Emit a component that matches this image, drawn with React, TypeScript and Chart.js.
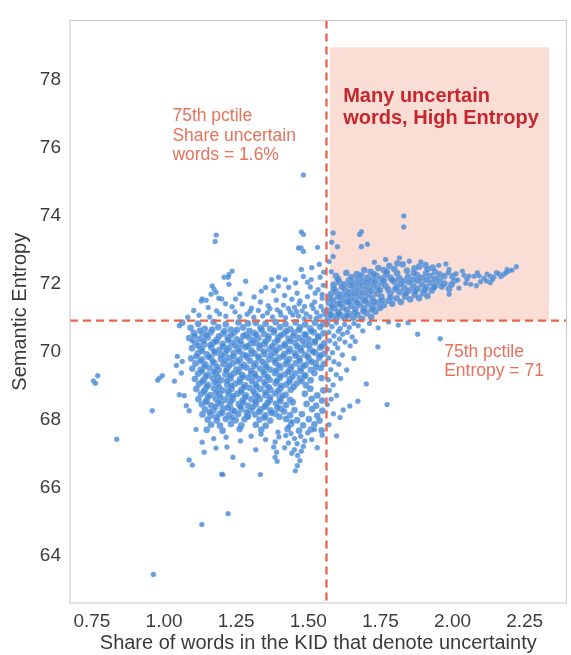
import { useEffect, useRef } from "react";
import Chart from "chart.js/auto";

type Pt = [number, number];

// axis ticks
const xTicks = [0.75, 1.0, 1.25, 1.5, 1.75, 2.0, 2.25];
const yTicks = [64, 66, 68, 70, 72, 74, 76, 78];

// 75th percentile thresholds
const shareCut = 1.563;
const entropyCut = 70.92;

// isolated points far from the main cloud
const outliers: Pt[] = [
  [0.755, 69.15], [0.77, 69.3], [0.762, 69.08], [0.836, 67.43], [0.959, 68.27], [0.984, 69.23],
  [0.994, 69.3], [0.978, 69.17], [0.963, 63.45], [1.131, 64.92], [1.222, 65.24], [1.204, 66.39],
  [1.334, 66.39], [1.053, 68.74], [1.046, 69.87], [1.063, 69.72], [1.043, 69.6], [1.06, 69.38],
  [1.036, 69.14], [1.07, 68.71], [1.077, 68.42], [1.087, 68.27], [1.053, 70.77], [1.098, 70.33],
];

// dense cloud, left half
const coreLeft: Pt[] = [
  [1.063, 70.86], [1.118, 70.83], [1.172, 70.88], [1.214, 70.81], [1.258, 70.87], [1.291, 70.84],
  [1.092, 70.71], [1.141, 70.68], [1.188, 70.73], [1.232, 70.66], [1.274, 70.72],
  [1.103, 70.56], [1.134, 70.52], [1.162, 70.58], [1.204, 70.54], [1.243, 70.57], [1.284, 70.51],
  [1.087, 70.41], [1.122, 70.38], [1.151, 70.43], [1.183, 70.36], [1.221, 70.42], [1.252, 70.37], [1.293, 70.44],
  [1.108, 70.26], [1.139, 70.22], [1.171, 70.28], [1.203, 70.24], [1.235, 70.27], [1.268, 70.21], [1.301, 70.25],
  [1.097, 70.11], [1.128, 70.08], [1.164, 70.13], [1.192, 70.06], [1.224, 70.12], [1.257, 70.09], [1.282, 70.14],
  [1.117, 69.96], [1.149, 69.93], [1.178, 69.98], [1.212, 69.94], [1.241, 69.97], [1.273, 69.92], [1.304, 69.95],
  [1.094, 69.81], [1.132, 69.78], [1.163, 69.83], [1.197, 69.79], [1.228, 69.82], [1.262, 69.77], [1.289, 69.84],
  [1.109, 69.66], [1.143, 69.63], [1.174, 69.68], [1.206, 69.64], [1.238, 69.67], [1.277, 69.62],
  [1.098, 69.51], [1.127, 69.48], [1.158, 69.53], [1.189, 69.47], [1.219, 69.52], [1.251, 69.49], [1.286, 69.54],
  [1.118, 69.36], [1.152, 69.33], [1.181, 69.38], [1.213, 69.34], [1.242, 69.37], [1.271, 69.32], [1.302, 69.35],
  [1.107, 69.21], [1.138, 69.18], [1.169, 69.23], [1.198, 69.17], [1.231, 69.22], [1.263, 69.19], [1.292, 69.24],
  [1.121, 69.06], [1.153, 69.03], [1.186, 69.08], [1.219, 69.04], [1.248, 69.07], [1.281, 69.02],
  [1.112, 68.91], [1.142, 68.88], [1.173, 68.93], [1.204, 68.87], [1.234, 68.92], [1.268, 68.89], [1.297, 68.94],
  [1.128, 68.76], [1.161, 68.73], [1.192, 68.78], [1.223, 68.74], [1.254, 68.77], [1.284, 68.72],
  [1.119, 68.61], [1.148, 68.58], [1.179, 68.63], [1.211, 68.59], [1.239, 68.62], [1.272, 68.57], [1.303, 68.61],
  [1.131, 68.46], [1.163, 68.43], [1.197, 68.48], [1.228, 68.44], [1.259, 68.47], [1.291, 68.42],
  [1.142, 68.31], [1.171, 68.28], [1.204, 68.33], [1.236, 68.29], [1.268, 68.32], [1.299, 68.27],
  [1.133, 68.16], [1.162, 68.13], [1.193, 68.18], [1.224, 68.14], [1.257, 68.17], [1.288, 68.12],
  [1.151, 68.01], [1.183, 67.98], [1.214, 68.03], [1.248, 67.99], [1.279, 68.02],
  [1.163, 67.86], [1.194, 67.83], [1.232, 67.88], [1.268, 67.84],
  [1.148, 67.71], [1.203, 67.68], [1.262, 67.73],
];

// dense cloud, right half up to the share cut
const coreRight: Pt[] = [
  [1.318, 70.86], [1.352, 70.83], [1.387, 70.88], [1.421, 70.82], [1.456, 70.87], [1.489, 70.81], [1.523, 70.86], [1.552, 70.83],
  [1.334, 70.71], [1.368, 70.68], [1.402, 70.73], [1.437, 70.67], [1.471, 70.72], [1.506, 70.69], [1.541, 70.74],
  [1.312, 70.56], [1.347, 70.53], [1.381, 70.58], [1.416, 70.54], [1.452, 70.57], [1.487, 70.52], [1.519, 70.58], [1.553, 70.55],
  [1.327, 70.41], [1.361, 70.38], [1.396, 70.43], [1.432, 70.39], [1.466, 70.42], [1.501, 70.37], [1.536, 70.43],
  [1.316, 70.26], [1.349, 70.23], [1.384, 70.28], [1.419, 70.24], [1.454, 70.27], [1.488, 70.22], [1.522, 70.28], [1.555, 70.25],
  [1.331, 70.11], [1.366, 70.08], [1.401, 70.13], [1.436, 70.09], [1.472, 70.12], [1.506, 70.07], [1.541, 70.13],
  [1.313, 69.96], [1.348, 69.93], [1.383, 69.98], [1.417, 69.94], [1.453, 69.97], [1.489, 69.92], [1.524, 69.98], [1.556, 69.95],
  [1.329, 69.81], [1.364, 69.78], [1.399, 69.83], [1.434, 69.79], [1.469, 69.82], [1.503, 69.77], [1.538, 69.83],
  [1.317, 69.66], [1.351, 69.63], [1.386, 69.68], [1.421, 69.64], [1.457, 69.67], [1.491, 69.62], [1.526, 69.68], [1.554, 69.65],
  [1.333, 69.51], [1.368, 69.48], [1.403, 69.53], [1.438, 69.49], [1.473, 69.52], [1.509, 69.47], [1.543, 69.53],
  [1.314, 69.36], [1.349, 69.33], [1.384, 69.38], [1.419, 69.34], [1.455, 69.37], [1.489, 69.32], [1.521, 69.38],
  [1.331, 69.21], [1.366, 69.18], [1.401, 69.23], [1.436, 69.19], [1.471, 69.22], [1.508, 69.17], [1.546, 69.23],
  [1.318, 69.06], [1.352, 69.03], [1.387, 69.08], [1.423, 69.04], [1.459, 69.07], [1.492, 69.02],
  [1.334, 68.91], [1.369, 68.88], [1.404, 68.93], [1.439, 68.89], [1.507, 68.92], [1.552, 68.87],
  [1.316, 68.76], [1.351, 68.73], [1.386, 68.78], [1.421, 68.74], [1.488, 68.77], [1.531, 68.72],
  [1.332, 68.61], [1.367, 68.58], [1.402, 68.63], [1.437, 68.59], [1.512, 68.62], [1.548, 68.57],
  [1.318, 68.46], [1.353, 68.43], [1.388, 68.48], [1.423, 68.44], [1.494, 68.47], [1.527, 68.42],
  [1.335, 68.31], [1.369, 68.28], [1.404, 68.33], [1.452, 68.29], [1.513, 68.32], [1.549, 68.27],
  [1.316, 68.16], [1.351, 68.13], [1.386, 68.18], [1.437, 68.14], [1.478, 68.17], [1.531, 68.12],
  [1.331, 68.01], [1.368, 67.98], [1.423, 68.03], [1.461, 67.99], [1.502, 68.02], [1.539, 67.98],
  [1.318, 67.86], [1.352, 67.83], [1.441, 67.88], [1.482, 67.84], [1.521, 67.87],
  [1.337, 67.71], [1.428, 67.73], [1.468, 67.68], [1.509, 67.72], [1.546, 67.69],
];

// extra points in the thickest part of the cloud
const coreFill: Pt[] = [
  [1.125, 70.63], [1.167, 70.66], [1.21, 70.61], [1.253, 70.65], [1.296, 70.62], [1.338, 70.66], [1.381, 70.63], [1.424, 70.61], [1.468, 70.65], [1.511, 70.62],
  [1.106, 70.47], [1.148, 70.5], [1.19, 70.46], [1.232, 70.49], [1.275, 70.47], [1.319, 70.51], [1.362, 70.46], [1.405, 70.49], [1.448, 70.47], [1.491, 70.5], [1.534, 70.46],
  [1.137, 70.33], [1.18, 70.31], [1.222, 70.35], [1.265, 70.32], [1.308, 70.34], [1.351, 70.31], [1.394, 70.35], [1.437, 70.32], [1.48, 70.34], [1.523, 70.31],
  [1.119, 70.18], [1.161, 70.2], [1.204, 70.16], [1.246, 70.19], [1.289, 70.17], [1.332, 70.2], [1.375, 70.16], [1.418, 70.19], [1.461, 70.17], [1.503, 70.2], [1.546, 70.16],
  [1.132, 70.03], [1.174, 70.01], [1.217, 70.05], [1.26, 70.02], [1.303, 70.04], [1.346, 70.01], [1.389, 70.05], [1.432, 70.02], [1.475, 70.04], [1.517, 70.01],
  [1.113, 69.88], [1.155, 69.86], [1.198, 69.9], [1.241, 69.87], [1.284, 69.89], [1.327, 69.86], [1.37, 69.9], [1.413, 69.87], [1.456, 69.89], [1.499, 69.86], [1.541, 69.9],
  [1.127, 69.73], [1.169, 69.71], [1.212, 69.75], [1.255, 69.72], [1.298, 69.74], [1.341, 69.71], [1.384, 69.75], [1.427, 69.72], [1.47, 69.74], [1.512, 69.71],
  [1.141, 69.58], [1.183, 69.56], [1.226, 69.6], [1.269, 69.57], [1.312, 69.59], [1.355, 69.56], [1.398, 69.6], [1.441, 69.57], [1.484, 69.59], [1.527, 69.56],
  [1.131, 69.43], [1.173, 69.41], [1.216, 69.45], [1.259, 69.42], [1.302, 69.44], [1.345, 69.41], [1.388, 69.45], [1.431, 69.42], [1.474, 69.44],
  [1.145, 69.28], [1.187, 69.26], [1.23, 69.3], [1.273, 69.27], [1.316, 69.29], [1.359, 69.26], [1.402, 69.3], [1.445, 69.27], [1.488, 69.29],
  [1.133, 69.13], [1.176, 69.11], [1.219, 69.15], [1.262, 69.12], [1.305, 69.14], [1.348, 69.11], [1.391, 69.15], [1.434, 69.12], [1.477, 69.14],
  [1.148, 68.98], [1.191, 68.96], [1.234, 69.0], [1.277, 68.97], [1.32, 68.99], [1.363, 68.96], [1.406, 69.0], [1.449, 68.97],
  [1.138, 68.83], [1.181, 68.81], [1.224, 68.85], [1.267, 68.82], [1.31, 68.84], [1.353, 68.81], [1.396, 68.85],
  [1.152, 68.68], [1.195, 68.66], [1.238, 68.7], [1.281, 68.67], [1.324, 68.69], [1.367, 68.66], [1.41, 68.7],
  [1.145, 68.53], [1.188, 68.51], [1.231, 68.55], [1.274, 68.52], [1.317, 68.54], [1.36, 68.51], [1.403, 68.55], [1.446, 68.52],
  [1.178, 68.38], [1.221, 68.36], [1.264, 68.4], [1.307, 68.37], [1.35, 68.39], [1.393, 68.36],
  [1.158, 68.23], [1.201, 68.21], [1.244, 68.25], [1.287, 68.22], [1.33, 68.24], [1.373, 68.21], [1.416, 68.25],
  [1.182, 68.08], [1.236, 68.06], [1.291, 68.1], [1.348, 68.07], [1.4, 68.09],
];

// above the entropy cut, left of the share cut
const upperLeft: Pt[] = [
  [1.129, 71.5], [1.146, 71.52], [1.163, 71.7], [1.173, 71.85], [1.167, 71.94], [1.2, 71.56], [1.19, 71.58],
  [1.18, 71.76], [1.208, 72.2], [1.225, 72.28], [1.236, 72.38], [1.222, 72.2], [1.225, 71.99], [1.283, 72.08],
  [1.132, 71.56], [1.352, 71.9], [1.373, 72.13], [1.397, 72.2], [1.42, 72.13], [1.38, 71.8], [1.432, 71.9],
  [1.483, 72.22], [1.476, 72.43], [1.51, 72.13], [1.541, 72.2], [1.181, 73.44], [1.177, 73.25], [1.483, 75.21],
  [1.483, 73.46], [1.475, 73.06], [1.483, 72.96], [1.532, 73.08], [1.466, 73.06], [1.476, 73.53],
  [1.082, 71.02], [1.121, 71.08], [1.158, 71.03], [1.192, 71.12], [1.214, 71.05], [1.246, 71.18], [1.262, 71.04],
  [1.288, 71.11], [1.311, 71.02], [1.327, 71.22], [1.342, 71.06], [1.358, 71.15], [1.376, 71.03], [1.392, 71.24],
  [1.405, 71.09], [1.421, 71.01], [1.438, 71.17], [1.452, 71.31], [1.466, 71.06], [1.479, 71.21], [1.493, 71.12],
  [1.506, 71.03], [1.517, 71.28], [1.529, 71.16], [1.541, 71.05], [1.553, 71.22],
  [1.236, 71.33], [1.271, 71.41], [1.303, 71.29], [1.334, 71.47], [1.361, 71.36], [1.389, 71.52], [1.414, 71.38],
  [1.443, 71.55], [1.468, 71.42], [1.497, 71.63], [1.522, 71.47], [1.548, 71.58], [1.534, 71.83], [1.507, 71.91],
  [1.552, 71.96], [1.461, 71.73], [1.418, 71.66], [1.312, 71.62], [1.263, 71.71], [1.497, 72.05], [1.553, 72.35],
  [1.538, 72.58], [1.512, 72.48], [1.103, 71.22], [1.153, 71.31], [1.213, 71.42], [1.182, 71.21], [1.248, 71.56],
  [1.337, 71.79], [1.396, 71.94], [1.456, 72.03], [1.524, 71.73],
  [1.402, 71.18], [1.431, 71.28], [1.459, 71.19], [1.487, 71.34], [1.512, 71.38], [1.544, 71.34], [1.528, 70.99],
  [1.486, 70.98], [1.447, 71.09], [1.367, 71.27], [1.298, 71.2], [1.557, 71.1], [1.548, 71.69], [1.471, 71.5],
];

// thin tails below the cloud
const lowerTail: Pt[] = [
  [1.385, 67.35], [1.38, 67.2], [1.39, 67.05], [1.385, 66.9], [1.392, 66.78], [1.398, 67.5], [1.395, 67.64],
  [1.432, 67.8], [1.44, 67.6], [1.452, 67.45], [1.461, 67.3], [1.452, 67.12], [1.463, 66.95], [1.471, 66.8],
  [1.462, 66.65], [1.455, 66.5], [1.442, 67.95], [1.474, 67.52], [1.483, 67.22], [1.431, 67.32], [1.443, 67.02],
  [1.488, 67.38], [1.476, 67.08], [1.422, 67.54], [1.418, 67.18],
  [1.132, 67.34], [1.139, 67.05], [1.18, 67.17], [1.218, 67.2], [1.215, 67.49], [1.239, 66.9], [1.273, 66.67],
  [1.087, 66.82], [1.098, 66.67], [1.2, 66.4], [1.111, 67.72], [1.172, 67.45], [1.265, 67.38], [1.302, 67.52],
  [1.318, 67.12], [1.336, 67.58], [1.352, 67.42], [1.512, 67.42], [1.531, 67.18], [1.548, 67.55], [1.498, 67.62],
  [1.521, 67.72],
];

// right of the share cut, below the entropy cut
const midRight: Pt[] = [
  [1.568, 70.82], [1.582, 70.74], [1.597, 70.86], [1.611, 70.69], [1.626, 70.81], [1.642, 70.72], [1.658, 70.84],
  [1.673, 70.77], [1.571, 70.58], [1.589, 70.47], [1.604, 70.61], [1.619, 70.52], [1.636, 70.58], [1.652, 70.44],
  [1.574, 70.33], [1.593, 70.24], [1.608, 70.38], [1.627, 70.29], [1.645, 70.18], [1.566, 70.09], [1.584, 69.98],
  [1.602, 70.12], [1.618, 69.91], [1.571, 69.82], [1.589, 69.71], [1.606, 69.64], [1.578, 69.48], [1.597, 69.33],
  [1.569, 69.18], [1.586, 69.03], [1.612, 69.22], [1.573, 68.87], [1.598, 68.72], [1.621, 68.29], [1.644, 68.41],
  [1.672, 68.55], [1.61, 68.07], [1.598, 67.53], [1.701, 69.06], [1.773, 68.45], [1.741, 70.15], [1.879, 70.52],
  [1.957, 70.39], [1.689, 70.62], [1.712, 70.84], [1.742, 70.71], [1.778, 70.88], [1.812, 70.79], [1.846, 70.86],
  [1.663, 70.31], [1.579, 68.61], [1.566, 68.45], [1.633, 69.47], [1.658, 69.81], [1.587, 68.18], [1.572, 67.86],
];

// many uncertain words, high entropy: the thick band
const upperRight: Pt[] = [
  [1.568, 70.98], [1.583, 71.06], [1.597, 70.97], [1.612, 71.08], [1.626, 70.99], [1.641, 71.12], [1.655, 71.01],
  [1.671, 71.09], [1.686, 70.97], [1.702, 71.14], [1.718, 71.03], [1.733, 71.19],
  [1.574, 71.21], [1.589, 71.29], [1.604, 71.18], [1.619, 71.31], [1.633, 71.24], [1.648, 71.36], [1.663, 71.27],
  [1.679, 71.39], [1.694, 71.29], [1.709, 71.42], [1.726, 71.33], [1.742, 71.46],
  [1.571, 71.45], [1.586, 71.52], [1.601, 71.41], [1.616, 71.56], [1.632, 71.48], [1.647, 71.61], [1.661, 71.52],
  [1.676, 71.64], [1.691, 71.55], [1.707, 71.68], [1.722, 71.59], [1.738, 71.72], [1.753, 71.63],
  [1.579, 71.71], [1.596, 71.78], [1.612, 71.69], [1.628, 71.83], [1.644, 71.76], [1.659, 71.88], [1.674, 71.81],
  [1.691, 71.93], [1.706, 71.85], [1.722, 71.97], [1.739, 71.89], [1.755, 72.02], [1.768, 71.94],
  [1.588, 71.98], [1.607, 72.06], [1.624, 71.99], [1.641, 72.11], [1.657, 72.04], [1.673, 72.16], [1.689, 72.08],
  [1.705, 72.19], [1.721, 72.12], [1.737, 72.24], [1.753, 72.16], [1.769, 72.28], [1.785, 72.19],
  [1.596, 72.24], [1.632, 72.33], [1.668, 72.29], [1.694, 72.41], [1.716, 72.36], [1.743, 72.47], [1.762, 72.41],
  [1.781, 72.53], [1.798, 72.44], [1.809, 72.61], [1.827, 72.58],
  [1.762, 71.38], [1.778, 71.51], [1.791, 71.42], [1.806, 71.58], [1.821, 71.47], [1.836, 71.63], [1.853, 71.55],
  [1.869, 71.68], [1.884, 71.59], [1.898, 71.73], [1.913, 71.65], [1.928, 71.81],
  [1.784, 71.72], [1.801, 71.84], [1.817, 71.76], [1.832, 71.89], [1.848, 71.81], [1.864, 71.94], [1.879, 71.86],
  [1.894, 71.99], [1.909, 71.91], [1.925, 72.04], [1.941, 71.96], [1.956, 72.09], [1.972, 72.01],
  [1.799, 72.07], [1.815, 72.17], [1.831, 72.09], [1.846, 72.21], [1.862, 72.13], [1.877, 72.26], [1.893, 72.18],
  [1.908, 72.31], [1.924, 72.23], [1.939, 72.36], [1.955, 72.28], [1.971, 72.23], [2.0, 72.23],
  [2.005, 72.09], [1.988, 71.85],
  [1.842, 72.39], [1.868, 72.46], [1.884, 72.51], [1.906, 72.56], [1.931, 72.48],
  [1.866, 72.33], [1.913, 72.44],
];

// extra points in the thick part of the high-entropy band
const upperRightFill: Pt[] = [
  [1.576, 71.1], [1.605, 71.12], [1.634, 71.07], [1.662, 71.16], [1.691, 71.2], [1.72, 71.25], [1.749, 71.3],
  [1.582, 71.35], [1.611, 71.42], [1.64, 71.47], [1.669, 71.45], [1.698, 71.5], [1.727, 71.47], [1.756, 71.52], [1.785, 71.6],
  [1.573, 71.6], [1.603, 71.63], [1.632, 71.67], [1.661, 71.71], [1.69, 71.74], [1.719, 71.79], [1.748, 71.82], [1.777, 71.84], [1.806, 71.9],
  [1.588, 71.86], [1.617, 71.91], [1.646, 71.96], [1.675, 71.99], [1.704, 72.04], [1.733, 72.06], [1.762, 72.1], [1.791, 72.12],
  [1.82, 72.0], [1.85, 72.05], [1.879, 72.1], [1.91, 72.12], [1.94, 72.15],
  [1.603, 72.14], [1.65, 72.2], [1.683, 72.25], [1.727, 72.29], [1.772, 72.35], [1.808, 72.32], [1.838, 71.72], [1.87, 71.78],
  [1.903, 71.83], [1.935, 71.9], [1.963, 71.93], [1.996, 71.98],
];

// thin tail of the band and the strays above it
const upperTail: Pt[] = [
  [1.816, 72.77], [1.85, 72.67], [1.89, 72.65], [1.952, 72.55], [1.977, 72.59], [1.988, 72.43], [1.988, 71.7],
  [2.018, 72.12], [2.034, 72.38], [2.04, 72.26], [2.057, 72.23], [2.063, 71.99], [2.075, 72.23], [2.086, 72.33],
  [2.097, 72.07], [2.109, 72.17], [2.12, 72.29], [2.131, 72.23], [2.131, 72.04], [2.143, 72.2], [2.152, 72.33],
  [2.16, 72.3], [2.168, 72.22], [2.177, 72.28], [2.189, 72.43], [2.195, 72.38], [2.206, 72.41], [2.221, 72.51],
  [2.046, 72.02], [2.022, 71.88], [2.083, 71.95], [2.118, 72.09], [1.985, 72.33], [2.012, 72.3], [2.05, 72.14],
  [2.092, 72.24], [2.138, 72.13], [2.185, 72.33],
  [1.831, 74.0], [1.831, 73.68], [1.684, 73.54], [1.678, 73.46], [1.684, 73.1], [1.705, 73.17], [1.586, 73.5],
  [1.601, 73.1], [1.581, 73.23], [1.586, 72.81], [1.572, 72.66], [1.58, 72.36], [1.768, 72.72], [1.729, 72.64],
];

const shareNote = ["75th pctile", "Share uncertain", "words = 1.6%"];
const entropyNote = ["75th pctile", "Entropy = 71"];
const quadrantNote = ["Many uncertain", "words, High Entropy"];

const FONT = "'Liberation Sans', Arial, sans-serif";
const CUT_COLOR = "#e8654b";
const DOT = "rgba(70,136,214,0.8)";
const DOT_EDGE = "rgba(255,255,255,0.3)";

const toXY = (pts: Pt[]) => pts.map(([a, b]) => ({ x: a, y: b }));

export default function App() {
  const ref = useRef<HTMLCanvasElement>(null);

  useEffect(() => {
    document.body.style.margin = "0";
    if (!ref.current) return;

    const dense = [...coreLeft, ...coreRight, ...coreFill, ...upperRight, ...upperRightFill];
    const sparse = [...outliers, ...upperLeft, ...lowerTail, ...midRight, ...upperTail];

    const overlay = {
      id: "overlay",
      beforeDatasetsDraw(chart: Chart) {
        const { ctx, scales } = chart;
        const x = scales.x;
        const y = scales.y;
        const l = x.getPixelForValue(1.575);
        const r = x.getPixelForValue(2.334);
        const t = y.getPixelForValue(78.97);
        const b = y.getPixelForValue(entropyCut);
        ctx.save();
        ctx.fillStyle = "rgba(236,130,95,0.27)";
        ctx.fillRect(l, t, r - l, b - t);
        ctx.restore();
      },
      afterDatasetsDraw(chart: Chart) {
        const { ctx, scales, chartArea } = chart;
        const x = scales.x;
        const y = scales.y;
        ctx.save();

        ctx.strokeStyle = CUT_COLOR;
        ctx.lineWidth = 2.3;
        ctx.setLineDash([8, 5]);
        const vx = x.getPixelForValue(shareCut);
        ctx.beginPath();
        ctx.moveTo(vx, chartArea.top);
        ctx.lineTo(vx, chartArea.bottom);
        ctx.stroke();
        const hy = y.getPixelForValue(entropyCut);
        ctx.beginPath();
        ctx.moveTo(chartArea.left, hy);
        ctx.lineTo(chartArea.right, hy);
        ctx.stroke();
        ctx.setLineDash([]);

        ctx.textAlign = "left";
        ctx.textBaseline = "middle";
        ctx.fillStyle = "#e8715a";
        ctx.font = `17.5px ${FONT}`;
        shareNote.forEach((s, i) => {
          ctx.fillText(s, x.getPixelForValue(1.029), y.getPixelForValue(76.93) + i * 19.3);
        });
        entropyNote.forEach((s, i) => {
          ctx.fillText(s, x.getPixelForValue(1.971), y.getPixelForValue(69.99) + i * 18.5);
        });
        ctx.fillStyle = "#c4282e";
        ctx.font = `bold 20px ${FONT}`;
        quadrantNote.forEach((s, i) => {
          ctx.fillText(s, x.getPixelForValue(1.621), y.getPixelForValue(77.51) + i * 21.7);
        });

        ctx.strokeStyle = "#cfcfcf";
        ctx.lineWidth = 1.2;
        ctx.strokeRect(chartArea.left, chartArea.top, chartArea.right - chartArea.left, chartArea.bottom - chartArea.top);
        ctx.restore();
      },
    };

    const chart = new Chart(ref.current, {
      type: "scatter",
      data: {
        datasets: [
          {
            label: "KIDs (sparse)",
            data: toXY(sparse),
            backgroundColor: DOT,
            borderColor: DOT_EDGE,
            borderWidth: 0.5,
            pointRadius: 2.7,
          },
          {
            label: "KIDs (dense)",
            data: toXY(dense),
            backgroundColor: DOT,
            borderColor: DOT_EDGE,
            borderWidth: 0.5,
            pointRadius: 3.4,
          },
        ],
      },
      options: {
        animation: false,
        responsive: true,
        maintainAspectRatio: false,
        layout: { padding: { top: 13, right: 1, left: 0, bottom: 0 } },
        plugins: { legend: { display: false }, tooltip: { enabled: false } },
        scales: {
          x: {
            type: "linear",
            min: 0.674,
            max: 2.395,
            afterBuildTicks: (s: any) => {
              s.ticks = xTicks.map((v) => ({ value: v }));
            },
            afterFit: (s: any) => {
              s.height = 52;
            },
            grid: { display: false, drawTicks: false },
            border: { display: false },
            ticks: {
              padding: 7,
              color: "#3d3d3d",
              font: { size: 19, family: FONT },
              callback: (v: any) => Number(v).toFixed(2),
            },
            title: {
              display: true,
              text: "Share of words in the KID that denote uncertainty",
              color: "#3a3a3a",
              font: { size: 20, family: FONT },
              padding: { top: 0, bottom: 0 },
            },
          },
          y: {
            type: "linear",
            min: 62.61,
            max: 79.76,
            afterBuildTicks: (s: any) => {
              s.ticks = yTicks.map((v) => ({ value: v }));
            },
            afterFit: (s: any) => {
              s.width = 70;
            },
            grid: { display: false, drawTicks: false },
            border: { display: false },
            ticks: {
              padding: 9,
              color: "#3d3d3d",
              font: { size: 19, family: FONT },
              callback: (v: any) => String(v),
            },
            title: {
              display: true,
              text: "Semantic Entropy",
              color: "#3a3a3a",
              font: { size: 20, family: FONT },
              padding: { top: 8, bottom: 0 },
            },
          },
        },
      },
      plugins: [overlay],
    });

    return () => {
      chart.destroy();
    };
  }, []);

  return (
    <div style={{ position: "relative", width: 571, height: 655 }}>
      <canvas ref={ref} />
    </div>
  );
}
